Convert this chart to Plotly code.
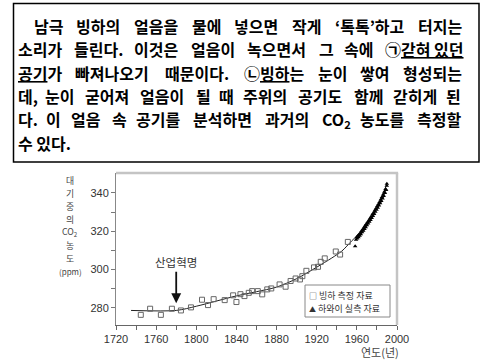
import re
import plotly.graph_objects as go

# ---------------- data ----------------
ice_years = [1744.7, 1754, 1764.7, 1775.7, 1784.7, 1794.7, 1805.7, 1811.7, 1817.3, 1828.3,
             1836.7, 1840, 1844, 1848, 1852.3, 1855.7, 1861.3, 1865.7, 1870.7, 1874.7,
             1883, 1889, 1894, 1899, 1903.3, 1905.7, 1909.7, 1917.3, 1921.3, 1924,
             1928, 1939, 1943.3, 1951]
ice_ppm = [276.3, 279.5, 276.3, 279.5, 278.6, 280.2, 284.2, 281.4, 284.5, 284.0,
           286.5, 283.0, 287.1, 286.1, 287.8, 288.7, 288.7, 287.0, 289.6, 290.1,
           292.2, 291.0, 294.0, 295.3, 294.8, 296.5, 299.3, 301.1, 301.4, 304.0,
           305.8, 309.4, 307.8, 314.4]

hawaii_years = [1958.3, 1959.2, 1959.8, 1960.4, 1961.0, 1961.6, 1962.2, 1962.8, 1963.4, 1964.0,
                1964.6, 1965.2, 1965.8, 1966.4, 1967.0, 1967.6, 1968.2, 1968.8, 1969.4, 1970.0,
                1970.6, 1971.2, 1971.8, 1972.4, 1973.0, 1973.6, 1974.2, 1974.8, 1975.4, 1976.0,
                1976.6, 1977.2, 1977.8, 1978.4, 1979.0, 1979.6, 1980.2, 1980.8, 1981.4, 1982.0,
                1982.6, 1983.2, 1983.8, 1984.4, 1985.0, 1985.6, 1986.2, 1986.8, 1987.4, 1988.0,
                1988.6, 1989.2, 1989.8, 1989.9]
hawaii_ppm = [312.2, 315.5, 316.9, 316.2, 317.6, 316.9, 318.3, 317.6, 319.0, 318.4,
              320.1, 319.4, 320.9, 320.2, 321.9, 321.2, 322.8, 322.1, 323.8, 323.1,
              324.7, 324.0, 325.6, 324.9, 326.6, 325.9, 327.6, 326.9, 328.7, 328.0,
              329.7, 329.0, 330.8, 330.1, 331.9, 331.2, 333.0, 332.3, 334.1, 333.4,
              335.3, 334.6, 336.5, 335.8, 337.8, 337.1, 339.2, 338.4, 340.6, 339.9,
              342.1, 341.5, 343.8, 344.8]

trend_years = [1735, 1780, 1800, 1820, 1840, 1860, 1880, 1900, 1920, 1935, 1945, 1955, 1965, 1975, 1982, 1990]
trend_ppm = [278.6, 278.6, 280.8, 283.5, 286.2, 288.4, 290.8, 295.2, 301.2, 306.0, 309.6, 315.0, 320.3, 327.8, 334.0, 344.8]

x_tickvals = [1720, 1760, 1800, 1840, 1880, 1920, 1960, 2000]
x_minor_tickvals = [1740, 1780, 1820, 1860, 1900, 1940, 1980]
y_tickvals = [280, 300, 320, 340]
y_minor_tickvals = [290, 310, 330]

text_lines = [
    ["남극", "빙하의", "얼음을", "물에", "넣으면", "작게", "‘톡톡’하고", "터지는"],
    ["소리가", "들린다.", "이것은", "얼음이", "녹으면서", "그", "속에", "㉠<u>갇혀 있던</u>"],
    ["<u>공기</u>가", "빠져나오기", "때문이다.", "㉡<u>빙하</u>는", "눈이", "쌓여", "형성되는"],
    ["데,", "눈이", "굳어져", "얼음이", "될", "때", "주위의", "공기도", "함께", "갇히게", "된"],
    ["다.", "이", "얼음", "속", "공기를", "분석하면", "과거의", "CO<sub>2</sub>", "농도를", "측정할"],
]
last_line = "수 있다."

legend_ice = "빙하 측정 자료"
legend_hawaii = "하와이 실측 자료"
ytitle_parts = ["대", "기", "중", "의", "CO<sub>2</sub>", "농", "도", "(ppm)"]
xtitle = "연도(년)"
event_label = "산업혁명"

# ---------------- layout geometry (pixel coords) ----------------
W, H = 485, 361
PL, PR, PT, PB = 116, 397, 173, 325


def px2x(px):
    return (px - PL) / (PR - PL)


def py2y(py):
    return (PB - py) / (PB - PT)


fig = go.Figure()

fig.add_trace(go.Scatter(x=trend_years, y=trend_ppm, mode="lines",
                         line=dict(color="#222", width=1, shape="spline", smoothing=0.8),
                         showlegend=False, hoverinfo="skip"))
fig.add_trace(go.Scatter(x=ice_years, y=ice_ppm, mode="markers",
                         marker=dict(symbol="square-open", size=5, color="#666", line=dict(width=1)),
                         showlegend=False))
fig.add_trace(go.Scatter(x=hawaii_years, y=hawaii_ppm, mode="markers",
                         marker=dict(symbol="triangle-up", size=4, color="#000"),
                         showlegend=False))

annotations = []
shapes = []

# ---- text box ----
shapes.append(dict(type="rect", xref="paper", yref="paper",
                   x0=px2x(13.5), x1=px2x(479), y0=py2y(162), y1=py2y(3.5),
                   line=dict(color="black", width=1.5), fillcolor="rgba(0,0,0,0)"))

FS = 16


def est_width(word):
    plain = re.sub(r"<sub>(.*?)</sub>", lambda m: "\x01" * len(m.group(1)), word)
    plain = re.sub(r"<[^>]+>", "", plain)
    w = 0.0
    for ch in plain:
        if ch == "\x01":
            w += 0.4
        elif ord(ch) >= 0x1100 and ch not in "‘’":
            w += 1.0
        elif ch in ".,‘’":
            w += 0.27
        elif ch == " ":
            w += 0.25
        elif ch in "CO":
            w += 0.72
        else:
            w += 0.6
    return w * FS


line_y = [25.7, 49.1, 72.5, 95.9, 119.3, 142.7]
line_bounds = [(31.5, 463.5), (15.5, 466), (15.5, 463.5), (15.5, 462.5), (15.5, 462.5)]
tfont = dict(family="Noto Sans CJK KR", size=FS, color="black", weight="bold")
for words, (L, R), yc in zip(text_lines, line_bounds, line_y):
    widths = [est_width(w) for w in words]
    gap = (R - L - sum(widths)) / (len(words) - 1)
    x = L
    for i, (w, wd) in enumerate(zip(words, widths)):
        last = i == len(words) - 1
        annotations.append(dict(text=w, xref="paper", yref="paper",
                                x=px2x(R if last else x), y=py2y(yc),
                                xanchor="right" if last else "left", yanchor="middle",
                                showarrow=False, font=tfont))
        x += wd + gap
annotations.append(dict(text=last_line, xref="paper", yref="paper", x=px2x(15.5), y=py2y(line_y[5]),
                        xanchor="left", yanchor="middle", showarrow=False, font=tfont))

# ---- y-axis title (stacked, one glyph group per row) ----
yt_pos = [180, 193, 206, 219, 232, 245, 258, 271]
for t, yp in zip(ytitle_parts, yt_pos):
    annotations.append(dict(text=t, xref="paper", yref="paper", x=px2x(70), y=py2y(yp),
                            xanchor="center", yanchor="middle", showarrow=False, borderpad=0,
                            font=dict(family="Noto Sans CJK KR", size=8.8 if t != "(ppm)" else 8,
                                      color="#444")))

# ---- x-axis title ----
annotations.append(dict(text=xtitle, xref="paper", yref="paper", x=px2x(380), y=py2y(352),
                        xanchor="center", yanchor="middle", showarrow=False,
                        font=dict(family="Noto Sans CJK KR", size=11, color="#444")))

# ---- industrial revolution arrow ----
annotations.append(dict(text=event_label, x=1780, y=282.4, xref="x", yref="y",
                        showarrow=True, ax=0, ay=-41, arrowhead=2, arrowsize=1.1, arrowwidth=1.8,
                        arrowcolor="#111", standoff=0,
                        font=dict(family="Noto Sans CJK KR", size=11.5, color="#333")))

# ---- legend ----
shapes.append(dict(type="rect", xref="paper", yref="paper",
                   x0=px2x(305), x1=px2x(390), y0=py2y(317), y1=py2y(285),
                   line=dict(color="#888", width=1), fillcolor="white", layer="above"))
lfont = dict(family="Noto Sans CJK KR", size=9, color="#333")
annotations.append(dict(text="<span style='font-size:8px'>□</span> " + legend_ice,
                        xref="paper", yref="paper", x=px2x(307.5), y=py2y(295.5),
                        xanchor="left", yanchor="middle", showarrow=False, borderpad=0, font=lfont))
annotations.append(dict(text="<span style='font-size:7px'>▲</span> " + legend_hawaii,
                        xref="paper", yref="paper", x=px2x(307.5), y=py2y(308.5),
                        xanchor="left", yanchor="middle", showarrow=False, borderpad=0, font=lfont))

# ---- light top/right frame ----
shapes.append(dict(type="line", xref="paper", yref="paper", x0=0, x1=1.004, y0=1, y1=1,
                   line=dict(color="#c4c4c4", width=2.5)))
shapes.append(dict(type="line", xref="paper", yref="paper", x0=1, x1=1, y0=0, y1=1,
                   line=dict(color="#c4c4c4", width=2.5)))

fig.update_layout(
    width=W, height=H,
    margin=dict(l=PL, r=W - PR, t=PT, b=H - PB),
    paper_bgcolor="white", plot_bgcolor="white",
    showlegend=False,
    annotations=annotations, shapes=shapes,
    xaxis=dict(range=[1720, 2000], tickvals=x_tickvals,
               ticks="outside", ticklen=4, tickcolor="#666", showline=True, linecolor="#666", linewidth=1,
               minor=dict(tickvals=x_minor_tickvals, ticks="outside", ticklen=4, tickcolor="#666",
                          showgrid=False),
               showgrid=False, zeroline=False,
               tickfont=dict(family="Liberation Sans", size=11, color="#333")),
    yaxis=dict(range=[271, 350.4], tickvals=y_tickvals,
               ticks="outside", ticklen=4, tickcolor="#777", showline=True, linecolor="#888", linewidth=1,
               minor=dict(tickvals=y_minor_tickvals, ticks="outside", ticklen=4, tickcolor="#777",
                          showgrid=False),
               showgrid=False, zeroline=False,
               tickfont=dict(family="Liberation Sans", size=11, color="#333")),
)

# remove the browser's default 8px body margin so the figure sits at the page origin
fig.write_html("out.html", config={"displayModeBar": False, "staticPlot": True},
               post_script="document.body.style.margin='0px';")
